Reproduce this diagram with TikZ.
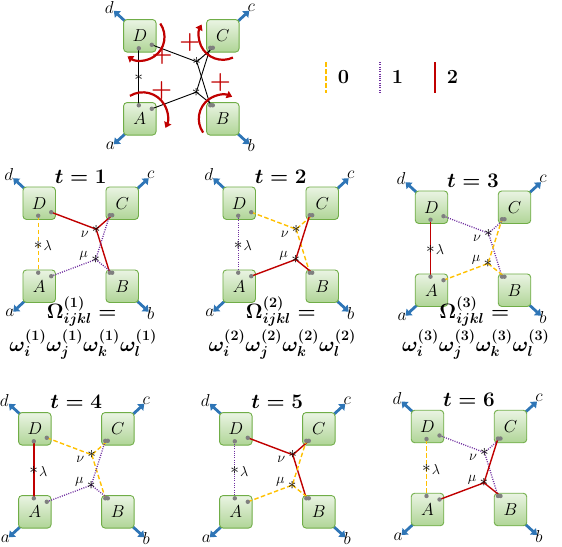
\documentclass[tikz,border=0pt]{standalone}
\usepackage{amsmath}
\usepackage{tikz}
\usetikzlibrary{arrows.meta}
\definecolor{cGold}{HTML}{FFC000}
\definecolor{cPurp}{HTML}{7030A0}
\definecolor{cRed}{HTML}{C00000}
\definecolor{cBlue}{HTML}{2E75B6}
\definecolor{cLeaf}{HTML}{70AD47}
\definecolor{cLeafTop}{HTML}{EAF4E3}
\definecolor{cLeafBot}{HTML}{B0D597}
\definecolor{cDot}{HTML}{7F7F7F}
\tikzset{
  site/.style={rounded corners=3.5pt,draw=cLeaf,line width=0.9pt,top color=cLeafTop,bottom color=cLeafBot,
    minimum size=32.5pt,inner sep=0pt,font=\fontsize{19}{19}\selectfont},
  port/.style={draw=cBlue,line width=2.8pt,-{Triangle[width=8.5pt,length=5.5pt]}},
  plbl/.style={font=\fontsize{16}{16}\selectfont,inner sep=0pt},
  e0/.style={draw=cGold,line width=1.4pt,dash pattern=on 4.5pt off 2.5pt},
  e1/.style={draw=cPurp,line width=1.3pt,dash pattern=on 1pt off 1.3pt},
  e2/.style={draw=cRed,line width=1.4pt},
  ek/.style={draw=black,line width=0.9pt},
  vtx/.style={inner sep=0pt,font=\fontsize{19}{19}\selectfont},
  glbl/.style={font=\fontsize{15}{15}\selectfont,inner sep=0pt},
  ttl/.style={font=\fontsize{19.5}{19.5}\selectfont\boldmath,inner sep=0pt},
  om/.style={font=\fontsize{20}{20}\selectfont\boldmath,inner sep=0pt,anchor=base},
  omw/.style={om,font=\fontsize{21.5}{21.5}\selectfont\boldmath},
  spin/.style={draw=cRed,line width=2.2pt,-{Triangle[width=7.5pt,length=5.5pt]}},
  pluslbl/.style={text=cRed,font=\fontsize{24}{24}\selectfont\bfseries,inner sep=0pt},
  legtxt/.style={font=\fontsize{20}{20}\selectfont\bfseries,inner sep=0pt}}
\begin{document}
\begin{tikzpicture}[x=1pt,y=-1pt]
\useasboundingbox (0,0) rectangle (562,546);
% one panel: sites D C A B, ports, bonds lambda nu mu
\foreach \n/\px/\py/\cl/\cn/\cm in {0/123.3/19.3/k/k/k,1/22.7/186.7/0/2/1,2/222.7/186.7/1/0/2,
    3/415/190.7/2/1/0,4/18.3/412.3/2/0/1,5/219.3/412.3/1/2/0,6/411/410/0/1/2}{
 \begin{scope}[shift={(\px,\py)}]
  \coordinate (kd\n) at (3,3);     \coordinate (pd\n) at (-9.5,-8.5);
  \coordinate (kc\n) at (113.5,3); \coordinate (pc\n) at (126,-8.5);
  \coordinate (ka\n) at (3,113.5); \coordinate (pa\n) at (-9.5,125);
  \coordinate (kb\n) at (113.5,113.5); \coordinate (pb\n) at (126,125);
  \draw[port] (kd\n) -- (pd\n); \draw[port] (kc\n) -- (pc\n);
  \draw[port] (ka\n) -- (pa\n); \draw[port] (kb\n) -- (pb\n);
  \node[site] (D\n) at (16.5,16.5) {$D$};
  \node[site] (C\n) at (99.5,16.5) {$C$};
  \node[site] (A\n) at (16.5,99.5) {$A$};
  \node[site] (B\n) at (99.5,99.5) {$B$};
  \coordinate (Ds\n) at (15.5,29);  \coordinate (De\n) at (28.5,25.5);
  \coordinate (Cm\n) at (87,28.5);  \coordinate (Cv\n) at (89.5,28.5);
  \coordinate (An\n) at (15.5,86);  \coordinate (Ae\n) at (28.5,89.5);
  \coordinate (Bm\n) at (89.5,86);  \coordinate (Bv\n) at (87,86);
  \coordinate (L\n) at (15.5,58.5); \coordinate (V\n) at (73.5,42.5); \coordinate (M\n) at (73,72.8);
  \draw[e\cl] (Ds\n) -- (L\n) -- (An\n);
  \draw[e\cn] (De\n) -- (V\n) -- (Cv\n) (V\n) -- (Bv\n);
  \draw[e\cm] (Ae\n) -- (M\n) -- (Cm\n) (M\n) -- (Bm\n);
  \foreach \p in {Ds,De,Cm,Cv,An,Ae,Bm,Bv} \fill[cDot] (\p\n) circle[radius=2.2];
  \node[vtx] (sL\n) at (L\n) {$\ast$};
  \node[vtx] (sV\n) at (V\n) {$\ast$};
  \node[vtx] (sM\n) at (M\n) {$\ast$};
  \node[plbl] (ld\n) at (-14,-12) {$d$};   \node[plbl] (lc\n) at (128,-12) {$c$};
  \node[plbl] (la\n) at (-13,126.5) {$a$}; \node[plbl] (lb\n) at (128,126.5) {$b$};
  \ifnum\n>0
   \node[ttl] (t\n) at (58,-10) {$t=\n$};
   \node[glbl] (lam\n) at (25,59.2) {$\lambda$};
   \node[glbl] (nu\n) at (62,47.5) {$\nu$};
   \node[glbl] (mu\n) at (61,69.5) {$\mu$};
  \fi
 \end{scope}}
% rotations of the first panel
\draw[spin] ([shift={(-35:23.5)},shift={(1.2,1.2)}]D0.center) arc[start angle=-35,end angle=125,radius=23.5];
\draw[spin] ([shift={(65:24)}]C0.center) arc[start angle=65,end angle=208,radius=24];
\draw[spin] ([shift={(-121:25)},shift={(3,-1.5)}]A0.center) arc[start angle=-121,end angle=25,radius=25];
\draw[spin] ([shift={(-215:24)}]B0.center) arc[start angle=-215,end angle=-67,radius=24];
\node[pluslbl] (pD) at ([shift={(22.4,19.7)}]D0.center) {+};
\node[pluslbl] (pA) at ([shift={(21.7,-27.8)}]A0.center) {+};
\node[pluslbl] (pC) at ([shift={(-33,6.7)}]C0.center) {+};
\node[pluslbl] (pB) at ([shift={(-2.5,-35.8)}]B0.center) {+};
% legend
\foreach \k/\gx in {0/326,1/380,2/435}{
  \coordinate (ga\k) at (\gx,62); \coordinate (gb\k) at (\gx,93);
  \draw[e\k,line width=1.6pt] (ga\k) -- (gb\k);
  \node[legtxt] (g\k) at (\gx+17.5,77) {\k};}
% weights
\foreach \n/\ox in {1/81.7,2/280.8,3/474.3}{
  \node[om] (om\n) at (\ox,318) {$\Omega^{(\n)}_{ijkl}=$};
  \node[omw] (omw\n) at (\ox+1.5,351) {$\omega^{(\n)}_i\omega^{(\n)}_j\omega^{(\n)}_k\omega^{(\n)}_l$};}
\end{tikzpicture}
\end{document}
